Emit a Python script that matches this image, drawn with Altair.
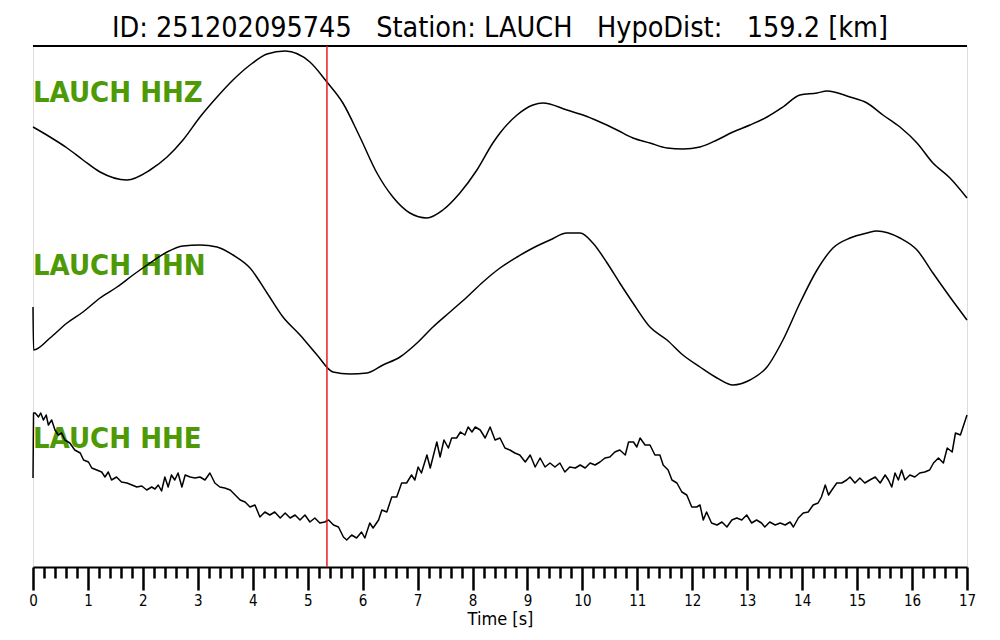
import altair as alt
import pandas as pd

# ---- data ----
title_text = "ID: 251202095745\u00a0\u00a0\u00a0Station: LAUCH\u00a0\u00a0\u00a0HypoDist:\u00a0\u00a0\u00a0159.2 [km]"
channels = ["LAUCH HHZ", "LAUCH HHN", "LAUCH HHE"]
pick_time = 5.35

hhz_t = [0.0, 0.31, 0.62, 0.91, 1.22, 1.71, 2.13, 2.44, 2.73, 3.04, 3.35, 3.64, 3.95, 4.26, 4.59,
         5.04, 5.35, 5.64, 5.95, 6.26, 6.55, 6.86, 7.17, 7.46, 7.77, 8.08, 8.37, 8.50, 8.81, 9.10,
         9.28, 9.72, 10.01, 10.32, 10.63, 10.92, 11.23, 11.54, 11.83, 12.14, 12.45, 12.74, 13.05,
         13.36, 13.65, 13.96, 14.27, 14.45, 14.87, 15.18, 15.47, 15.78, 16.09, 16.38, 16.69, 17.0]
hhz_a = [8, -2, -13, -25, -37, -45, -35, -22, -5, 18, 38, 55, 70, 81, 84,
         73, 53, 32, -2, -38, -62, -78, -83, -75, -58, -35, -8, 2, 20, 30,
         32, 25, 20, 13, 5, -3, -8, -13, -14, -12, -5, 3, 10,
         18, 28, 40, 42, 44, 38, 32, 20, 8, -8, -28, -43, -63]

hhn_t = [0.0, 0.01, 0.31, 0.62, 0.91, 1.22, 1.53, 1.82, 2.13, 2.44, 2.73, 3.04, 3.35, 3.64, 3.95,
         4.26, 4.55, 4.86, 5.17, 5.46, 5.77, 6.08, 6.37, 6.68, 6.99, 7.28, 7.59, 7.90, 8.19, 8.50,
         8.81, 9.10, 9.41, 9.72, 9.96, 10.19, 10.45, 10.68, 10.92, 11.23, 11.54, 11.83, 12.14,
         12.45, 12.74, 13.05, 13.36, 13.65, 13.96, 14.27, 14.56, 14.87, 15.18, 15.36, 15.78,
         16.09, 16.38, 16.69, 17.0]
hhn_a = [-2, -45, -33, -18, -7, 7, 18, 30, 42, 53, 59, 60, 58, 50, 37,
         12, -12, -30, -50, -67, -69, -68, -60, -52, -38, -22, -7, 8, 23, 37,
         48, 57, 65, 72, 72, 62, 42, 22, 2, -22, -35, -50, -62,
         -73, -80, -75, -62, -35, 2, 35, 57, 67, 72, 74, 67,
         55, 32, 8, -15]

hhe_t = [0.0, 0.01, 0.04, 0.10, 0.14, 0.19, 0.24, 0.28, 0.34, 0.40, 0.46, 0.52, 0.58, 0.67, 0.76,
         0.86, 0.92, 1.01, 1.07, 1.16, 1.25, 1.31, 1.37, 1.43, 1.52, 1.61, 1.71, 1.80, 1.89, 1.98,
         2.07, 2.16, 2.22, 2.28, 2.34, 2.40, 2.46, 2.52, 2.58, 2.64, 2.71, 2.77, 2.86, 2.95, 3.04,
         3.13, 3.22, 3.31, 3.40, 3.49, 3.59, 3.68, 3.77, 3.86, 3.95, 4.04, 4.13, 4.22, 4.31, 4.40,
         4.50, 4.59, 4.68, 4.77, 4.86, 4.95, 5.04, 5.13, 5.22, 5.31, 5.38, 5.47, 5.56, 5.65,
         5.71, 5.80, 5.89, 5.98, 6.04, 6.13, 6.19, 6.29, 6.35, 6.44, 6.53, 6.62, 6.71, 6.80, 6.89,
         6.95, 7.01, 7.07, 7.17, 7.23, 7.29, 7.35, 7.41, 7.48, 7.56, 7.62, 7.71, 7.78, 7.86, 7.92,
         7.99, 8.05, 8.14, 8.23, 8.32, 8.41, 8.50, 8.59, 8.68, 8.77, 8.86, 8.96, 9.05, 9.14, 9.23,
         9.32, 9.41, 9.50, 9.59, 9.68, 9.77, 9.87, 9.96, 10.05, 10.14, 10.23, 10.32, 10.41, 10.50,
         10.59, 10.68, 10.78, 10.84, 10.93, 10.99, 11.05, 11.14, 11.23, 11.32, 11.41, 11.47, 11.56,
         11.63, 11.72, 11.81, 11.90, 11.99, 12.08, 12.14, 12.20, 12.26, 12.35, 12.45, 12.54, 12.63,
         12.72, 12.81, 12.90, 12.99, 13.08, 13.17, 13.26, 13.32, 13.41, 13.51, 13.60, 13.69, 13.78,
         13.84, 13.93, 14.02, 14.11, 14.20, 14.29, 14.35, 14.42, 14.48, 14.54, 14.63, 14.72, 14.81,
         14.87, 14.96, 15.05, 15.14, 15.23, 15.33, 15.42, 15.51, 15.57, 15.63, 15.69, 15.75, 15.81,
         15.87, 15.96, 16.05, 16.14, 16.23, 16.32, 16.39, 16.48, 16.57, 16.64, 16.73, 16.79, 16.88,
         16.97, 17.0]
hhe_a = [-1, 64, 64, 60, 64, 57, 62, 52, 57, 47, 42, 44, 37, 34, 27,
         24, 17, 15, 9, 7, 5, 0, 5, -3, 0, -5, -6, -8, -10, -9,
         -13, -10, -12, -8, -14, 0, -10, 2, -3, 4, -10, 2, 0, -1, 0,
         -3, 4, -6, -10, -11, -13, -18, -23, -25, -30, -28, -40, -35, -38, -35,
         -41, -36, -41, -38, -43, -38, -45, -41, -46, -45, -43, -48, -50, -60,
         -63, -58, -61, -55, -61, -46, -51, -43, -33, -35, -20, -20, -6, -6, 2,
         -3, 10, 4, 22, 9, 22, 35, 20, 37, 29, 39, 39, 45, 42, 50,
         45, 50, 47, 39, 50, 37, 39, 29, 27, 24, 22, 15, 22, 10, 19,
         10, 14, 10, 14, 5, 10, 9, 12, 9, 14, 12, 15, 19, 20,
         25, 27, 22, 35, 35, 30, 39, 32, 32, 22, 22, 12, 7,
         -3, -6, -15, -18, -30, -30, -28, -43, -35, -46, -48, -45, -50,
         -43, -41, -43, -38, -46, -43, -46, -50, -45, -48, -46, -48, -45,
         -50, -41, -36, -35, -28, -26, -20, -8, -18, -13, -6, -6, -3,
         0, -6, -1, -6, -3, 0, -6, 2, -3, -10, 4, -3, 7,
         -3, 2, 0, 4, 5, 7, 14, 19, 14, 29, 25, 44, 42,
         57, 62]

# ---- layout constants ----
W, H = 934, 521
bases = [-89, -259, -431]
label_y = [56, 229, 402]
green = "#4e9a06"
font = "DejaVu Sans Condensed"

def frame(name, ts, amps, base):
    return pd.DataFrame({"channel": name, "t": ts, "v": [a + base for a in amps],
                         "order": list(range(len(ts)))})

df_smooth = pd.concat([frame(channels[0], hhz_t, hhz_a, bases[0]),
                       frame(channels[1], hhn_t, hhn_a, bases[1])])
df_rough = frame(channels[2], hhe_t, hhe_a, bases[2])

tick_values = [round(i * 0.2, 1) for i in range(0, 86)]
is_major = "abs(datum.value - round(datum.value)) < 0.01"

x_scale = alt.Scale(domain=[0, 17], nice=False, zero=False)
y_scale = alt.Scale(domain=[-H, 0], nice=False, zero=False)

x_axis = alt.Axis(
    values=tick_values,
    tickCount=200,
    labelExpr=f"{is_major} ? round(datum.value) + '' : ''",
    tickSize={"condition": {"test": is_major, "value": 23}, "value": 11},
    tickWidth=2.5,
    tickColor="black",
    domainColor="black",
    domainWidth=2,
    labelFont=font,
    labelFontSize=15,
    labelColor="black",
    labelPadding=3,
    labelOverlap=False,
    labelFlush=False,
    title="Time [s]",
    titleFont=font,
    titleFontSize=18,
    titleFontWeight="normal",
    titleColor="black",
    titlePadding=2,
    grid=False,
)

one = pd.DataFrame({"k": [0]})

base_line = alt.Chart(one).mark_rule(color="black", strokeWidth=1.8).encode(
    x=alt.value(0), x2=alt.value(W), y=alt.value(0)
)
title_mark = alt.Chart(one).mark_text(
    text=title_text, font=font, fontSize=28.5, color="black", align="center", baseline="middle"
).encode(x=alt.value(W / 2), y=alt.value(-18))

labels = [
    alt.Chart(one).mark_text(
        text=name, font=font, fontSize=29, fontWeight="bold", color=green,
        align="left", baseline="alphabetic"
    ).encode(x=alt.value(0), y=alt.value(ly))
    for name, ly in zip(channels, label_y)
]

enc = dict(
    x=alt.X("t:Q", scale=x_scale, axis=x_axis),
    y=alt.Y("v:Q", scale=y_scale, axis=None),
    detail="channel:N",
    order="order:Q",
)
traces_smooth = alt.Chart(df_smooth).mark_line(
    color="black", strokeWidth=1.5, strokeJoin="round", interpolate="monotone"
).encode(**enc)
traces_rough = alt.Chart(df_rough).mark_line(
    color="black", strokeWidth=1.5, strokeJoin="round"
).encode(**enc)

pick = alt.Chart(pd.DataFrame({"t": [pick_time]})).mark_rule(color="#ee1c1c", strokeWidth=1.5).encode(
    x=alt.X("t:Q", scale=x_scale), y=alt.value(0), y2=alt.value(H)
)

chart = alt.layer(base_line, title_mark, *labels, traces_smooth, traces_rough, pick).properties(
    width=W, height=H,
    autosize=alt.AutoSizeParams(type="none"),
    padding={"left": 25, "top": 38, "right": 25, "bottom": 65},
).configure_view(stroke=None).configure(background="white")

chart.save("out.html", embed_options={"renderer": "svg", "actions": False})
